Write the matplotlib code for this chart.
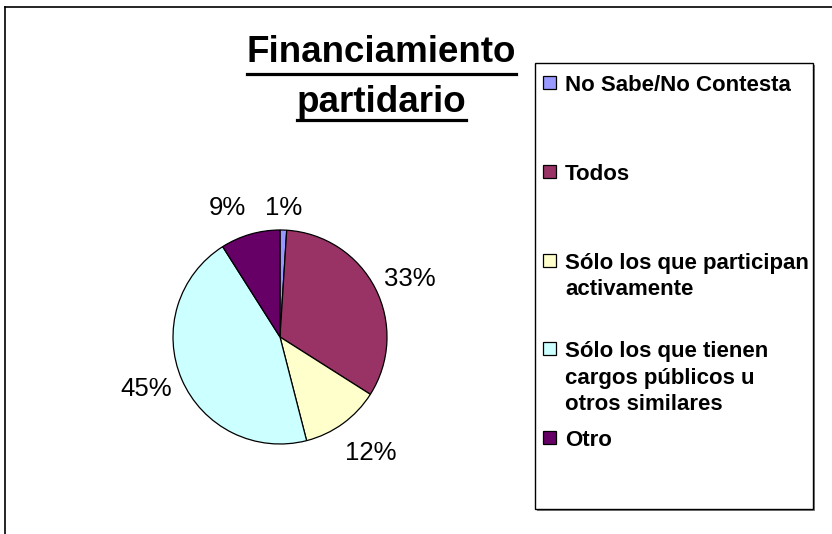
import numpy as np
import matplotlib
matplotlib.use("Agg")
import matplotlib.pyplot as plt
from matplotlib.patches import Rectangle
from matplotlib.lines import Line2D

plt.rcParams['font.family'] = ['Liberation Sans', 'DejaVu Sans']

# datos del grafico
categorias = ['No Sabe/No Contesta', 'Todos', 'Sólo los que participan\nactivamente',
              'Sólo los que tienen\ncargos públicos u\notros similares', 'Otro']
valores = [1, 33, 12, 45, 9]
colores = ['#9999FF', '#993366', '#FFFFCC', '#CCFFFF', '#660066']
titulo = ['Financiamiento', 'partidario']

W, H = 832, 534
fig = plt.figure(figsize=(W / 100, H / 100), dpi=100)

def fx(px):
    return px / W

def fy(py):
    return (H - py) / H

# marco del area del grafico (solo arriba e izquierda visibles)
fig.add_artist(Line2D([fx(5), fx(832)], [fy(7), fy(7)], color='black', lw=1.2))
fig.add_artist(Line2D([fx(5), fx(5)], [fy(7), fy(534)], color='black', lw=1.2))

# torta
R = 107
cx, cy = 280, 337
lim = 1.65
half = R * lim
ax = fig.add_axes([fx(cx - half), (H - cy - half) / H, 2 * half / W, 2 * half / H])
wedges, textos, pcts = ax.pie(valores, colors=colores, startangle=90, counterclock=False,
                              autopct='%1.0f%%', pctdistance=1.3,
                              wedgeprops=dict(edgecolor='black', linewidth=0.9),
                              textprops=dict(fontsize=18.5, color='black'))
ax.set_xlim(-lim, lim)
ax.set_ylim(-lim, lim)
ax.set_aspect('equal')
ax.axis('off')

# posicion de etiquetas (distancia radial y pequeño giro en grados)
dist = [1.21, 1.33, 1.38, 1.34, 1.30]
giro = [0, -3, 2, -2, 6]
for w, t, d, g in zip(wedges, pcts, dist, giro):
    ang = np.deg2rad((w.theta1 + w.theta2) / 2 + g)
    t.set_position((d * np.cos(ang), d * np.sin(ang)))
    t.set_ha('center')
    t.set_va('center')

# titulo subrayado
tx = 381.5
t1 = fig.text(fx(tx), fy(62), titulo[0], ha='center', va='baseline',
              fontsize=26.5, fontweight='bold')
t2 = fig.text(fx(tx), fy(112), titulo[1], ha='center', va='baseline',
              fontsize=26.5, fontweight='bold')

# leyenda manual
lx0, lx1, ly0, ly1 = 535, 813, 63, 509
fig.add_artist(Rectangle((fx(lx0 + 2), fy(ly1 + 2)), (lx1 - lx0) / W, (ly1 - ly0) / H,
                         facecolor='#808080', edgecolor='none'))
fig.add_artist(Rectangle((fx(lx0), fy(ly1)), (lx1 - lx0) / W, (ly1 - ly0) / H,
                         facecolor='white', edgecolor='black', linewidth=1))
base0 = 91
paso = 88.75
renglon = 26.5
for i, (cat, col) in enumerate(zip(categorias, colores)):
    b = base0 + i * paso
    fig.add_artist(Rectangle((fx(543), fy(b - 2)), 13 / W, 13 / H,
                             facecolor=col, edgecolor='black', linewidth=0.9))
    for k, linea in enumerate(cat.split('\n')):
        fig.text(fx(565), fy(b + k * renglon), linea, ha='left', va='baseline',
                 fontsize=16, fontweight='bold')

# subrayados
fig.canvas.draw()
r = fig.canvas.get_renderer()
for t, yl in [(t1, 73.5), (t2, 119.5)]:
    bb = t.get_window_extent(r)
    fig.add_artist(Line2D([bb.x0 / W, bb.x1 / W], [fy(yl), fy(yl)], color='black', lw=2.3))

fig.savefig('out.png', dpi=100)
